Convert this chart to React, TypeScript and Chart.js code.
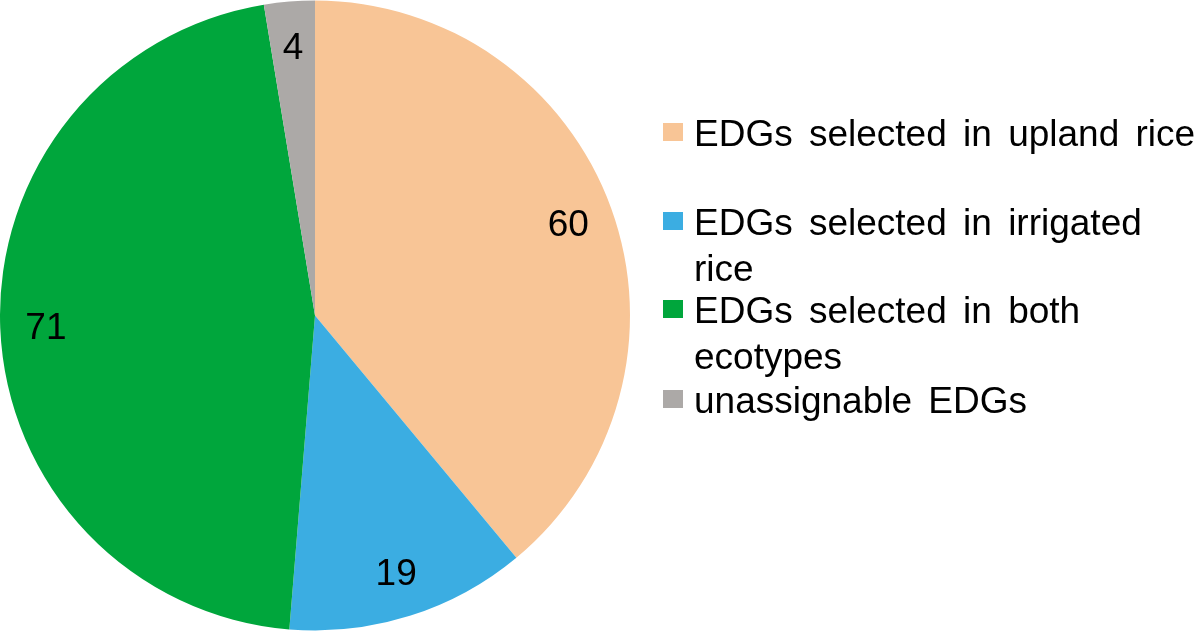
import React, { useEffect, useRef } from "react";
import { Chart, registerables } from "chart.js";

Chart.register(...registerables);

const categories = [
  "EDGs selected in upland rice",
  "EDGs selected in irrigated rice",
  "EDGs selected in both ecotypes",
  "unassignable EDGs",
];
const legendLines = [
  ["EDGs selected in upland rice"],
  ["EDGs selected in irrigated", "rice"],
  ["EDGs selected in both", "ecotypes"],
  ["unassignable EDGs"],
];
const values = [60, 19, 71, 4];
const colors = ["#F8C596", "#3BADE2", "#00A63C", "#ACA9A7"];

const FONT = "37px 'Liberation Sans', Arial, sans-serif";

const labelPlugin = {
  id: "sliceLabels",
  afterDatasetsDraw(chart: any) {
    const ctx = chart.ctx;
    const meta = chart.getDatasetMeta(0);
    ctx.save();
    ctx.font = FONT;
    ctx.fillStyle = "#000";
    ctx.textAlign = "center";
    ctx.textBaseline = "middle";
    meta.data.forEach((arc: any, i: number) => {
      const p = arc.getProps(["x", "y", "startAngle", "endAngle", "outerRadius"], true);
      const mid = (p.startAngle + p.endAngle) / 2;
      const r = p.outerRadius * 0.855;
      ctx.fillText(String(values[i]), p.x + Math.cos(mid) * r, p.y + Math.sin(mid) * r + 2);
    });
    ctx.restore();
  },
};

const legendPlugin = {
  id: "customLegend",
  afterDraw(chart: any) {
    const ctx = chart.ctx;
    ctx.save();
    ctx.font = FONT;
    (ctx as any).wordSpacing = "6px";
    ctx.textAlign = "left";
    ctx.textBaseline = "alphabetic";
    const itemBaselines = [146, 235, 323, 413];
    const lineHeight = 46;
    legendLines.forEach((lines, i) => {
      const base = itemBaselines[i];
      ctx.fillStyle = colors[i];
      ctx.fillRect(663, base - 23, 20, 18);
      ctx.fillStyle = "#000";
      lines.forEach((ln, j) => {
        ctx.fillText(ln, 694, base + j * lineHeight);
      });
    });
    ctx.restore();
  },
};

export default function App() {
  const ref = useRef<HTMLCanvasElement | null>(null);
  useEffect(() => {
    if (!ref.current) return;
    const chart = new Chart(ref.current, {
      type: "pie",
      data: {
        labels: categories,
        datasets: [
          {
            data: values,
            backgroundColor: colors,
            borderWidth: 0,
          },
        ],
      },
      options: {
        responsive: false,
        animation: false,
        devicePixelRatio: 1,
        layout: { padding: { left: 0, right: 570, top: 0, bottom: 0 } },
        plugins: {
          legend: { display: false },
          tooltip: { enabled: false },
        },
      },
      plugins: [labelPlugin, legendPlugin],
    });
    return () => chart.destroy();
  }, []);
  return (
    <div style={{ position: "absolute", left: 0, top: 0, width: 1200, height: 631, background: "#fff" }}>
      <canvas ref={ref} width={1200} height={631} style={{ display: "block" }} />
    </div>
  );
}
